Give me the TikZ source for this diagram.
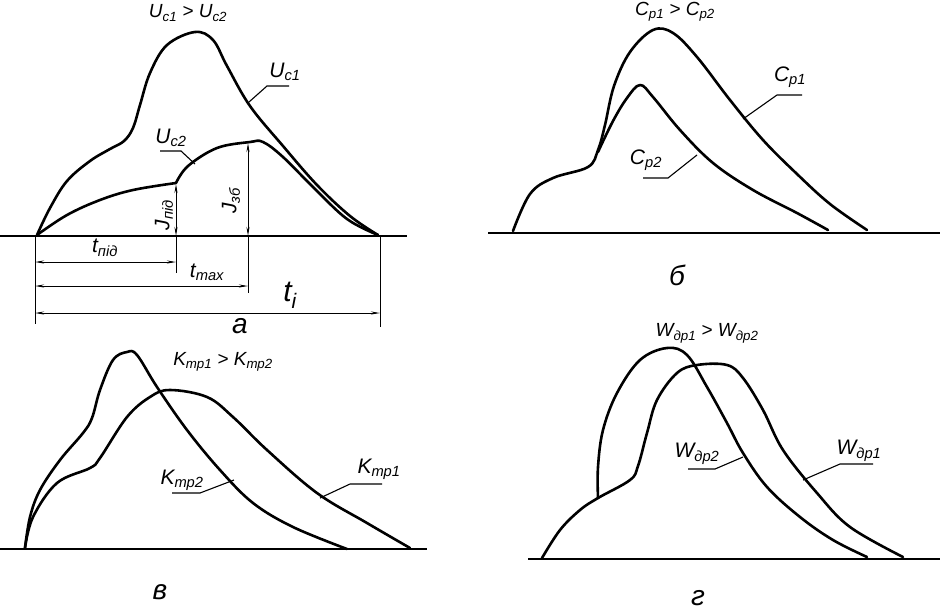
\documentclass[tikz,border=0pt]{standalone}
\usepackage{fontspec}
\setmainfont{Liberation Sans}
\usetikzlibrary{arrows.meta}
\tikzset{
  curve/.style={line width=2.6pt, line join=round, line cap=round},
  base/.style={line width=2.6pt},
  leader/.style={line width=1.1pt},
  dimline/.style={line width=0.9pt, {Stealth[length=9pt,width=3pt]}-{Stealth[length=9pt,width=3pt]}},
  extline/.style={line width=1pt},
  lbl/.style={font=\itshape\fontsize{21}{23}\selectfont, inner sep=1pt},
  ttl/.style={font=\itshape\fontsize{19}{21}\selectfont, inner sep=1pt},
  plet/.style={font=\itshape\fontsize{28}{30}\selectfont, inner sep=1pt},
}
\begin{document}
\begin{tikzpicture}[x=1pt,y=-1pt]
\useasboundingbox (0,0) rectangle (940,614);
% ================= panel a =================
\coordinate (a0) at (0,236);
\coordinate (a1) at (407,236);
\draw[base] (a0) -- (a1);
\draw[curve] plot[smooth, tension=0.6] coordinates {(37,235) (50,208) (67,181) (90,161) (110,149) (124,141) (133,128) (140,105) (150,73) (167,45) (195,32) (213,40) (227,66) (250,106) (283,146) (317,185) (350,216) (378,235)};
\draw[curve] plot[smooth, tension=0.6] coordinates {(37,235) (67,215) (100,200) (133,190) (176,183)};
\draw[curve] plot[smooth, tension=0.6] coordinates {(176,183) (188,166) (217,148) (250,142) (263,142) (283,157) (314,188) (347,219) (378,235)};
% vertical dims
\coordinate (jn0) at (176,236);
\coordinate (jn1) at (176,184);
\draw[dimline] (jn0) -- (jn1);
\coordinate (jz0) at (248,236);
\coordinate (jz1) at (248,143);
\draw[dimline] (jz0) -- (jz1);
\node[lbl, rotate=90] (Jnid) at (164,215) {J\textsubscript{під}};
\node[lbl, rotate=90] (Jzb) at (231,201) {J\textsubscript{зб}};
% extension lines
\coordinate (e1a) at (35,236); \coordinate (e1b) at (35,324);
\coordinate (e2a) at (176,236); \coordinate (e2b) at (176,273);
\coordinate (e3a) at (248,236); \coordinate (e3b) at (248,293);
\coordinate (e4a) at (380,236); \coordinate (e4b) at (380,327);
\draw[extline] (e1a) -- (e1b);
\draw[extline] (e2a) -- (e2b);
\draw[extline] (e3a) -- (e3b);
\draw[extline] (e4a) -- (e4b);
% horizontal dims
\coordinate (t1a) at (35,262); \coordinate (t1b) at (176,262);
\coordinate (t2a) at (35,286); \coordinate (t2b) at (248,286);
\coordinate (t3a) at (35,313); \coordinate (t3b) at (380,313);
\draw[dimline] (t1a) -- (t1b);
\draw[dimline] (t2a) -- (t2b);
\draw[dimline] (t3a) -- (t3b);
\node[lbl] (tnid) at (105,248) {t\textsubscript{під}};
\node[lbl] (tmax) at (207,272) {t\textsubscript{max}};
\node[lbl, font=\itshape\fontsize{30}{32}\selectfont] (ti) at (290,295) {t\textsubscript{i}};
\node[plet] (pa) at (240,326) {а};
% titles/labels
\node[ttl] (ta) at (188,13) {U\textsubscript{c1} > U\textsubscript{c2}};
\node[lbl] (Uc1) at (285,72) {U\textsubscript{c1}};
\coordinate (u1c) at (249,102);
\coordinate (u1k) at (267,86);
\coordinate (u1e) at (289,86);
\draw[leader] (u1c) -- (u1k) -- (u1e);
\node[lbl] (Uc2) at (171,138) {U\textsubscript{c2}};
\coordinate (u2c) at (195,164);
\coordinate (u2k) at (181,151);
\coordinate (u2e) at (160,151);
\draw[leader] (u2e) -- (u2k) -- (u2c);
% ================= panel b =================
\coordinate (b0) at (488,233);
\coordinate (b1) at (940,233);
\draw[base] (b0) -- (b1);
\draw[curve] plot[smooth, tension=0.6] coordinates {(513,231) (530,194) (553,178) (588,167) (598,150) (605,125) (614,86) (630,52) (653,30) (673,33) (697,57) (730,100) (763,140) (797,174) (830,204) (867,230)};
\draw[curve] plot[smooth, tension=0.6] coordinates {(598,152) (613,121) (627,98) (640,85) (653,97) (680,130) (713,163) (753,190) (797,213) (828,230)};
\node[ttl] (tb) at (675,12) {C\textsubscript{р1} > C\textsubscript{р2}};
\node[lbl] (Cp1) at (790,77) {C\textsubscript{р1}};
\coordinate (c1c) at (743,119);
\coordinate (c1k) at (777,95);
\coordinate (c1e) at (802,95);
\draw[leader] (c1c) -- (c1k) -- (c1e);
\node[lbl] (Cp2) at (646,160) {C\textsubscript{р2}};
\coordinate (c2c) at (697,155);
\coordinate (c2k) at (668,178);
\coordinate (c2e) at (643,178);
\draw[leader] (c2e) -- (c2k) -- (c2c);
\node[plet] (pb) at (677,275) {б};
% ================= panel v =================
\coordinate (v0) at (0,549);
\coordinate (v1) at (427,549);
\draw[base] (v0) -- (v1);
\draw[curve] plot[smooth, tension=0.6] coordinates {(25,548) (30,517) (40,490) (60,460) (83,433) (92,418) (100,390) (113,360) (127,352) (137,355) (157,387) (187,430) (220,470) (253,503) (293,527) (347,549)};
\draw[curve] plot[smooth, tension=0.6] coordinates {(25,548) (33,517) (57,483) (90,468) (100,458) (127,417) (150,397) (170,390) (207,397) (233,417) (267,450) (317,493) (367,523) (410,548)};
\node[ttl] (tv) at (223,362) {K\textsubscript{тр1} > K\textsubscript{тр2}};
\node[lbl] (K1) at (379,469) {K\textsubscript{тр1}};
\coordinate (k1c) at (320,498);
\coordinate (k1k) at (350,484);
\coordinate (k1e) at (382,484);
\draw[leader] (k1c) -- (k1k) -- (k1e);
\node[lbl] (K2) at (182,480) {K\textsubscript{тр2}};
\coordinate (k2c) at (234,480);
\coordinate (k2k) at (200,493);
\coordinate (k2e) at (172,493);
\draw[leader] (k2e) -- (k2k) -- (k2c);
\node[plet] (pv) at (160,592) {в};
% ================= panel g =================
\coordinate (g0) at (528,559);
\coordinate (g1) at (940,559);
\draw[base] (g0) -- (g1);
\draw[curve] plot[smooth, tension=0.6] coordinates {(542,558) (560,530) (580,510) (598,498) (630,480) (638,466) (647,433) (657,400) (677,373) (697,365) (727,365) (743,378) (763,410) (783,450) (817,493) (850,527) (903,557)};
\draw[curve] plot[smooth, tension=0.6] coordinates {(598,498) (598,467) (603,430) (617,393) (640,360) (667,348) (687,355) (707,387) (727,423) (743,453) (767,487) (800,517) (833,540) (867,557)};
\node[ttl] (tg) at (707,333) {W\textsubscript{др1} > W\textsubscript{др2}};
\node[lbl] (W1) at (859,451) {W\textsubscript{др1}};
\coordinate (w1c) at (803,480);
\coordinate (w1k) at (840,464);
\coordinate (w1e) at (873,464);
\draw[leader] (w1c) -- (w1k) -- (w1e);
\node[lbl] (W2) at (697,454) {W\textsubscript{др2}};
\coordinate (w2c) at (743,457);
\coordinate (w2k) at (715,469);
\coordinate (w2e) at (688,469);
\draw[leader] (w2e) -- (w2k) -- (w2c);
\node[plet] (pg) at (698,598) {г};
\end{tikzpicture}
\end{document}
